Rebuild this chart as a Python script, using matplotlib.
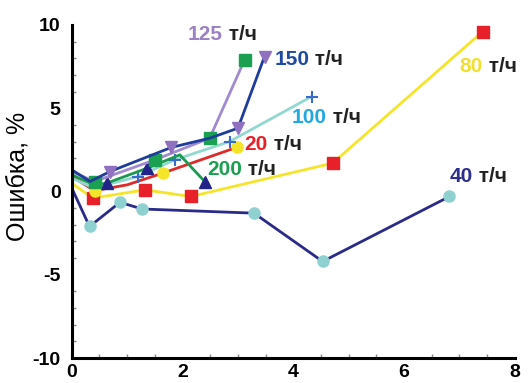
import matplotlib
matplotlib.use("Agg")
import matplotlib.pyplot as plt
from matplotlib.ticker import MultipleLocator

plt.rcParams['axes.unicode_minus'] = False

# series data (x, error %)
x40 = [0, 0.32, 0.87, 1.27, 3.29, 4.53, 6.82]
y40 = [0.2, -2.1, -0.65, -1.05, -1.3, -4.2, -0.3]

x80 = [0, 0.38, 1.32, 2.15, 4.71, 7.42]
y80 = [0.5, -0.4, 0.1, -0.3, 1.7, 9.6]

x20 = [0, 0.41, 1.0, 1.64, 2.98]
y20 = [0.9, 0.05, 0.4, 1.1, 2.65]

x100 = [0, 0.4, 1.19, 1.86, 2.85, 4.33]
y100 = [0.8, 0.2, 0.9, 1.9, 3.0, 5.7]

x200 = [0, 0.4, 0.63, 1.36, 1.95, 2.4]
y200 = [1.0, 0.4, 0.5, 1.4, 2.2, 0.6]

x125 = [0, 0.41, 1.5, 2.49, 3.12]
y125 = [1.2, 0.6, 1.9, 3.2, 7.9]

x150 = [0, 0.33, 0.69, 1.8, 2.49, 3.0, 3.48]
y150 = [1.3, 0.6, 1.2, 2.65, 3.2, 3.8, 8.1]

label_nums = ["125", "150", "100", "20", "200", "80", "40"]
label_x = [2.09, 3.66, 3.97, 3.12, 2.45, 7.0, 6.82]
label_y = [9.4, 7.9, 4.45, 2.8, 1.3, 7.5, 0.9]
label_colors = ["#9c80c4", "#1f4aa0", "#22a8e0", "#e8202a", "#1aa050", "#f0e030", "#2e2e8e"]

fig = plt.figure(figsize=(5.28, 3.83), dpi=100)
ax = fig.add_axes([0.136, 0.065, 0.839, 0.87])

lw = 2.0
ax.plot(x40, y40, '-o', color="#2a2a8a", lw=lw, mfc="#8fd0d0", mec="#8fd0d0", ms=8, markevery=list(range(1, 7)))
ax.plot(x80, y80, '-s', color="#f5e52a", lw=lw, mfc="#e8202a", mec="#e8202a", ms=8.5, markevery=list(range(1, 6)))
ax.plot(x20, y20, '-o', color="#e02a2a", lw=lw, mfc="#f5e52a", mec="#f5e52a", ms=8, markevery=[1, 3, 4])
ax.plot(x100, y100, '-+', color="#90d8d0", lw=lw, mec="#3a6ad0", ms=8, mew=1.5, markevery=[2, 3, 4, 5])
ax.plot(x200, y200, '-^', color="#1a9a50", lw=lw, mfc="#22248a", mec="#22248a", ms=8.5, markevery=[2, 3, 5])
ax.plot(x125, y125, '-s', color="#a08ad0", lw=lw, mfc="#1aa050", mec="#1aa050", ms=8.5, markevery=[1, 2, 3, 4])
ax.plot(x150, y150, '-v', color="#1e3c9c", lw=lw, mfc="#9070c0", mec="#9070c0", ms=9, markevery=[2, 3, 5, 6])

for num, lx, ly, c in zip(label_nums, label_x, label_y, label_colors):
    t = ax.text(lx, ly, num, color=c, fontsize=15, fontweight='bold',
                family='Liberation Sans', ha='left', va='center')
    ax.annotate(" т/ч", xy=(1, 0.5), xycoords=t, color="#222222", fontsize=15,
                fontweight='bold', family='Liberation Sans', ha='left', va='center')

ax.set_xlim(0, 8)
ax.set_ylim(-10, 10)
ax.set_xticks([0, 2, 4, 6, 8])
ax.set_yticks([-10, -5, 0, 5, 10])
ax.xaxis.set_minor_locator(MultipleLocator(0.5))
ax.yaxis.set_minor_locator(MultipleLocator(1))
ax.tick_params(which='major', length=0, labelsize=14, pad=4)
ax.tick_params(axis='y', which='major', pad=8)
ax.tick_params(which='minor', direction='in', length=3, width=1, color='#888888')
for lab in ax.get_xticklabels() + ax.get_yticklabels():
    lab.set_fontweight('bold')
    lab.set_family('Liberation Sans')
for s in ['top', 'right']:
    ax.spines[s].set_visible(False)
for s in ['left', 'bottom']:
    ax.spines[s].set_linewidth(2.2)

fig.text(18 / 528, 1 - 176 / 383, "Ошибка, %", rotation=90, ha='center', va='center',
         fontsize=18, family='Liberation Sans')

fig.savefig("out.png", dpi=100)
